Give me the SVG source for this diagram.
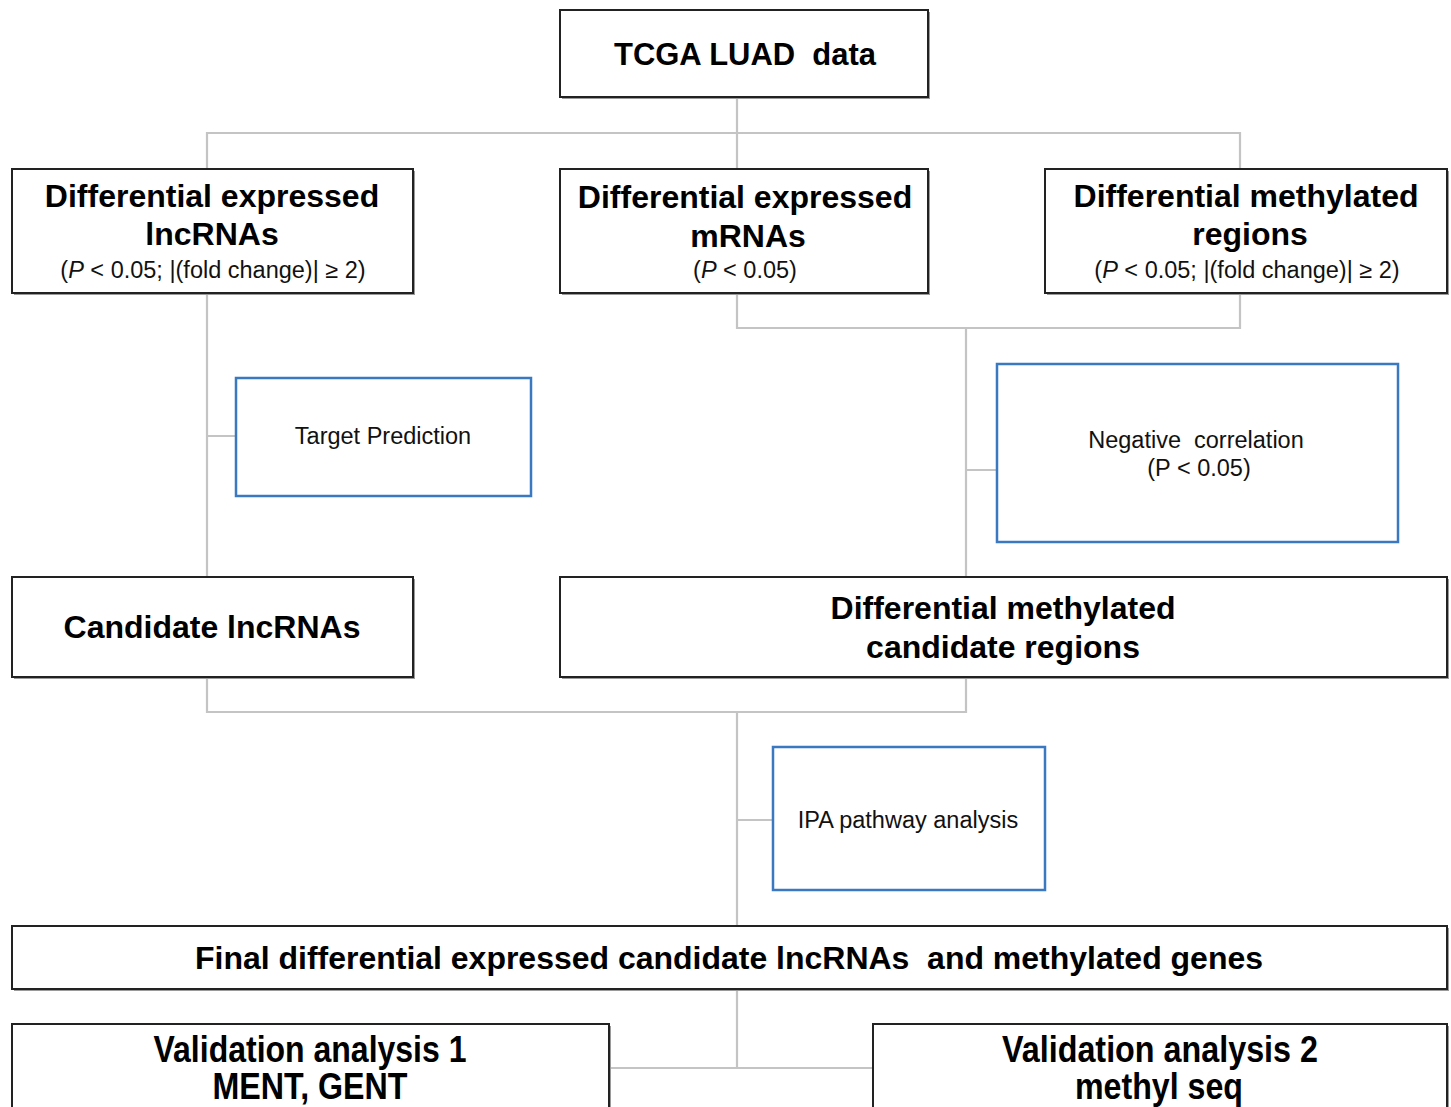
<svg xmlns="http://www.w3.org/2000/svg" width="1451" height="1107" viewBox="0 0 1451 1107">
<style>
.box{fill:#fff;stroke:#222;stroke-width:2}
.sh{fill:#9a9a9a}
.blue{fill:#fff;stroke:#3b78c2;stroke-width:2.5}
.con{fill:none;stroke:#c4c4c4;stroke-width:2.2}
text{white-space:pre}
.t{font-family:"Liberation Sans",Arial,sans-serif;font-weight:bold;font-size:32px;fill:#000;text-anchor:middle}
.s{font-family:"Liberation Sans",Arial,sans-serif;font-size:23.5px;fill:#111;text-anchor:middle}
.v{font-family:"Liberation Sans",Arial,sans-serif;font-weight:bold;font-size:37px;fill:#000;text-anchor:middle}
</style>
<rect width="1451" height="1107" fill="#fff"/>
<g id="connectors">
<path class="con" d="M737 97V168M207 168V133H1240V168"/>
<path class="con" d="M207 293V577M207 436H236"/>
<path class="con" d="M737 293V328H1240V293M966 328V577M966 470H997"/>
<path class="con" d="M207 677V712H966V677M737 712V926M737 820H773"/>
<path class="con" d="M737 989V1068M609 1068H873"/>
</g>
<g id="tcga">
<rect class="sh" x="562" y="12" width="368" height="87"/>
<rect class="box" x="560" y="10" width="368" height="87"/>
<text class="t" x="745" y="65" textLength="262" lengthAdjust="spacingAndGlyphs">TCGA LUAD  data</text>
</g>
<g id="de-lncrna">
<rect class="sh" x="14" y="171" width="401" height="124"/>
<rect class="box" x="12" y="169" width="401" height="124"/>
<text class="t" x="212" y="207">Differential expressed</text>
<text class="t" x="212" y="245">lncRNAs</text>
<text class="s" x="213" y="278">(<tspan font-style="italic">P</tspan> &lt; 0.05; |(fold change)| ≥ 2)</text>
</g>
<g id="de-mrna">
<rect class="sh" x="562" y="171" width="368" height="124"/>
<rect class="box" x="560" y="169" width="368" height="124"/>
<text class="t" x="745" y="208">Differential expressed</text>
<text class="t" x="748" y="247">mRNAs</text>
<text class="s" x="745" y="278">(<tspan font-style="italic">P</tspan> &lt; 0.05)</text>
</g>
<g id="dm-regions">
<rect class="sh" x="1047" y="171" width="402" height="124"/>
<rect class="box" x="1045" y="169" width="402" height="124"/>
<text class="t" x="1246" y="207">Differential methylated</text>
<text class="t" x="1250" y="245">regions</text>
<text class="s" x="1247" y="278">(<tspan font-style="italic">P</tspan> &lt; 0.05; |(fold change)| ≥ 2)</text>
</g>
<g id="target-prediction">
<rect class="blue" x="236" y="378" width="295" height="118"/>
<text class="s" x="383" y="444">Target Prediction</text>
</g>
<g id="neg-corr">
<rect class="blue" x="997" y="364" width="401" height="178"/>
<text class="s" x="1196" y="448">Negative  correlation</text>
<text class="s" x="1199" y="476">(P &lt; 0.05)</text>
</g>
<g id="candidate-lncrna">
<rect class="sh" x="14" y="579" width="401" height="100"/>
<rect class="box" x="12" y="577" width="401" height="100"/>
<text class="t" x="212" y="638">Candidate lncRNAs</text>
</g>
<g id="dm-candidate">
<rect class="sh" x="562" y="579" width="887" height="100"/>
<rect class="box" x="560" y="577" width="887" height="100"/>
<text class="t" x="1003" y="619">Differential methylated</text>
<text class="t" x="1003" y="658">candidate regions</text>
</g>
<g id="ipa">
<rect class="blue" x="773" y="747" width="272" height="143"/>
<text class="s" x="908" y="828">IPA pathway analysis</text>
</g>
<g id="final">
<rect class="sh" x="14" y="928" width="1435" height="63"/>
<rect class="box" x="12" y="926" width="1435" height="63"/>
<text class="t" x="729" y="969" font-size="31" textLength="1068" lengthAdjust="spacing">Final differential expressed candidate lncRNAs  and methylated genes</text>
</g>
<g id="validation1">
<rect class="sh" x="14" y="1026" width="597" height="100"/>
<rect class="box" x="12" y="1024" width="597" height="100"/>
<text class="v" x="310" y="1062" textLength="313" lengthAdjust="spacingAndGlyphs">Validation analysis 1</text>
<text class="v" x="310" y="1099" textLength="195" lengthAdjust="spacingAndGlyphs">MENT, GENT</text>
</g>
<g id="validation2">
<rect class="sh" x="875" y="1026" width="574" height="100"/>
<rect class="box" x="873" y="1024" width="574" height="100"/>
<text class="v" x="1160" y="1062" textLength="316" lengthAdjust="spacingAndGlyphs">Validation analysis 2</text>
<text class="v" x="1159" y="1099" textLength="168" lengthAdjust="spacingAndGlyphs">methyl seq</text>
</g>
</svg>
